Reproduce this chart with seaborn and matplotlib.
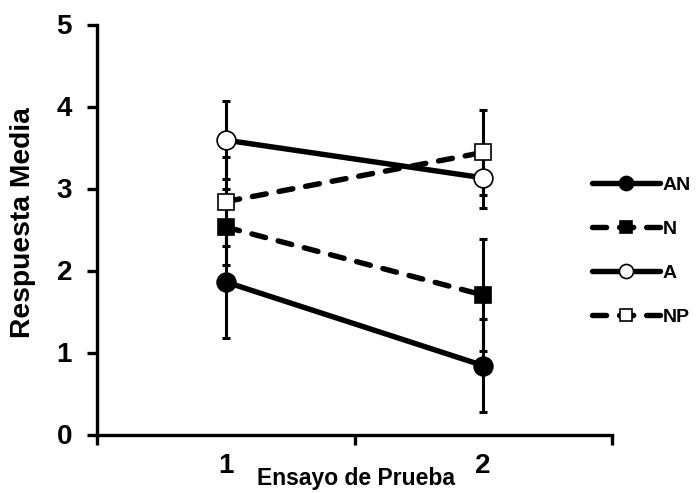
import numpy as np
import pandas as pd
import seaborn as sns
import matplotlib.pyplot as plt

# trial numbers and group names
trials = [1, 2]
groups = ["AN", "N", "A", "NP"]

# mean response and standard error per group
an_mean = [1.86, 0.84]
an_se = [0.68, 0.57]
n_mean = [2.53, 1.70]
n_se = [0.46, 0.68]
a_mean = [3.59, 3.13]
a_se = [0.48, 0.37]
np_mean = [2.84, 3.44]
np_se = [0.54, 0.52]

y_ticks = [0, 1, 2, 3, 4, 5]

means = {"AN": an_mean, "N": n_mean, "A": a_mean, "NP": np_mean}
ses = {"AN": an_se, "N": n_se, "A": a_se, "NP": np_se}

rows = []
for g in groups:
    for t, m, s in zip(trials, means[g], ses[g]):
        rows.append({"Ensayo": t, "Respuesta": m, "EE": s, "Grupo": g})
df = pd.DataFrame(rows)

sns.set_style("ticks")
plt.rcParams['font.family'] = ['Liberation Sans', 'DejaVu Sans']
plt.rcParams['font.weight'] = 'bold'
for key in ["text.color", "axes.labelcolor", "xtick.color", "ytick.color"]:
    plt.rcParams[key] = "black"

dashed = (0, (2.6, 2.4))
# marker, face colour, line style, marker size
styles = {
    "AN": ("o", "black", "-", 13.5),
    "N": ("s", "black", dashed, 12),
    "A": ("o", "white", "-", 13.5),
    "NP": ("s", "white", dashed, 12),
}

fig = plt.figure(figsize=(7, 4.93), dpi=100)
ax = fig.add_axes([97 / 700, 1 - 434.5 / 493, 515 / 700, 410 / 493])

for g in groups:
    sub = df[df["Grupo"] == g]
    marker, face, ls, ms = styles[g]
    ax.errorbar(sub["Ensayo"], sub["Respuesta"], yerr=sub["EE"], fmt="none",
                ecolor="black", elinewidth=2.2, capsize=3, capthick=2.2, zorder=2)
    sns.lineplot(data=sub, x="Ensayo", y="Respuesta", color="black", errorbar=None,
                 marker=marker, markersize=ms, markerfacecolor=face,
                 markeredgecolor="black", markeredgewidth=1.2,
                 linewidth=3.9, linestyle=ls, dash_capstyle="round",
                 label=g, ax=ax, zorder=3)

ax.set_xlim(0.5, 2.5)
ax.set_ylim(0, 5)
ax.set_yticks(y_ticks)
ax.set_xticks([0.5, 1.5, 2.5])
ax.set_xticklabels([])
ax.set_xticks(trials, minor=True)
ax.set_xticklabels([str(t) for t in trials], minor=True)

ax.tick_params(axis="x", which="major", direction="out", length=7, width=2.4)
ax.tick_params(axis="x", which="minor", length=0, pad=13, labelsize=20)
ax.tick_params(axis="y", direction="out", length=7, width=2.4, pad=11, labelsize=20)

sns.despine(ax=ax)
for side in ["left", "bottom"]:
    ax.spines[side].set_linewidth(2.4)
    ax.spines[side].set_color("black")

ax.set_xlabel("Ensayo de Prueba", fontsize=16.5, fontweight="bold")
ax.xaxis.set_label_coords(0.503, -0.08)
ax.set_ylabel("Respuesta Media", fontsize=20.3, fontweight="bold")
ax.yaxis.set_label_coords(-0.118, 0.516)

handles, labels = ax.get_legend_handles_labels()
ax.legend(handles, labels, loc="center left",
          bbox_to_anchor=(592 / 700, 1 - 251 / 493), bbox_transform=fig.transFigure,
          frameon=False, prop={"weight": "bold", "size": 14},
          handlelength=3.5, handletextpad=0.15, labelspacing=1.35,
          borderpad=0, borderaxespad=0, markerscale=0.75)

fig.savefig("out.png", dpi=100)
